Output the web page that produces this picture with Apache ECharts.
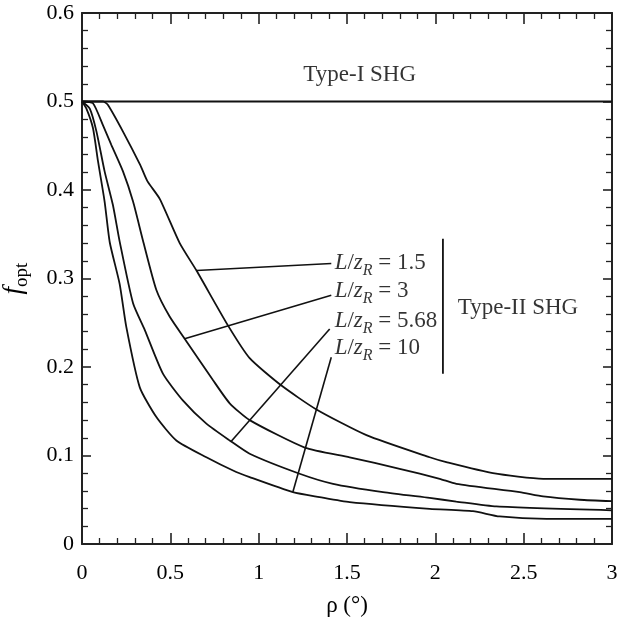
<!DOCTYPE html>
<html>
<head>
<meta charset="utf-8">
<script src="https://cdn.jsdelivr.net/npm/echarts@6/dist/echarts.min.js"></script>
<style>
  html, body { margin: 0; padding: 0; background: #fff; }
  #main { width: 619px; height: 619px; }
</style>
</head>
<body>
<div id="main"></div>
<script>
// tick labels
var xTickLabels = ['0', '0.5', '1', '1.5', '2', '2.5', '3'];
var yTickLabels = ['0', '0.1', '0.2', '0.3', '0.4', '0.5', '0.6'];

// curves: [rho, f_opt]
var typeOne = [[0, 0.5], [3, 0.5]];
var ratio1p5 = [[0, 0.5], [0.12, 0.5], [0.147, 0.496], [0.232, 0.466], [0.33, 0.428], [0.37, 0.41],
    [0.44, 0.39], [0.553, 0.34], [0.648, 0.309], [0.826, 0.247], [0.949, 0.21], [1.129, 0.179],
    [1.327, 0.152], [1.61, 0.123], [1.968, 0.098], [2.062, 0.0925], [2.326, 0.08], [2.61, 0.0737], [3, 0.0737]];
var ratio3 = [[0, 0.5], [0.062, 0.498], [0.119, 0.473], [0.166, 0.451], [0.232, 0.421], [0.289, 0.387],
    [0.345, 0.343], [0.421, 0.287], [0.496, 0.257], [0.581, 0.232], [0.742, 0.185], [0.836, 0.159],
    [0.949, 0.14], [1.261, 0.109], [1.515, 0.098], [1.798, 0.085], [2.025, 0.0737], [2.119, 0.068],
    [2.478, 0.0586], [2.61, 0.0537], [2.817, 0.05], [3, 0.0484]];
var ratio5p68 = [[0, 0.5], [0.044, 0.492], [0.082, 0.466], [0.128, 0.421], [0.175, 0.383], [0.213, 0.342],
    [0.289, 0.272], [0.355, 0.242], [0.458, 0.1925], [0.572, 0.162], [0.704, 0.136], [0.836, 0.117],
    [0.949, 0.102], [1.232, 0.0794], [1.421, 0.068], [1.704, 0.0586], [1.968, 0.052], [2.119, 0.048],
    [2.346, 0.0424], [3, 0.038]];
var ratio10 = [[0, 0.5], [0.025, 0.492], [0.062, 0.47], [0.091, 0.432], [0.128, 0.387], [0.157, 0.341],
    [0.213, 0.294], [0.251, 0.245], [0.327, 0.177], [0.421, 0.1434], [0.534, 0.117], [0.704, 0.098],
    [0.855, 0.083], [0.949, 0.0756], [1.194, 0.0586], [1.345, 0.053], [1.515, 0.0473], [1.968, 0.0398],
    [2.213, 0.0371], [2.364, 0.0311], [2.629, 0.0285], [3, 0.0285]];

// L/zR values, leader lines (curve end -> label end) and label anchors
var ratioNames = ['1.5', '3', '5.68', '10'];
var leaderOnCurve = [[0.648, 0.309], [0.581, 0.232], [0.845, 0.116], [1.194, 0.059]];
var leaderAtLabel = [[1.411, 0.317], [1.411, 0.281], [1.402, 0.243], [1.411, 0.211]];
var labelAnchor = [[1.43, 0.3133], [1.43, 0.2813], [1.43, 0.2474], [1.43, 0.2172]];
var bracket = [[2.043, 0.345], [2.043, 0.1925]];

var FONT = '"Liberation Serif", "DejaVu Serif", serif';
var INK = '#000';

var series = [];
[typeOne, ratio1p5, ratio3, ratio5p68, ratio10].forEach(function(d) {
    series.push({
        type: 'line', data: d, symbol: 'none', silent: true, smooth: 0.2,
        lineStyle: { color: '#111', width: 1.8 }
    });
});
for (var i = 0; i < ratioNames.length; i++) {
    series.push({
        type: 'line', data: [leaderOnCurve[i], leaderAtLabel[i]], symbol: 'none', silent: true,
        lineStyle: { color: '#111', width: 1.6 }
    });
}
series.push({
    type: 'line', data: bracket, symbol: 'none', silent: true,
    lineStyle: { color: '#111', width: 1.8 }
});

// L/zR = ... labels
series.push({
    type: 'scatter', symbolSize: 0, silent: true,
    data: labelAnchor.map(function(p, i) { return [p[0], p[1], ratioNames[i]]; }),
    label: {
        show: true, position: 'right', distance: 0,
        formatter: function(p) {
            return '{i|L}{n|/}{i|z}{s|R}{n| = ' + p.value[2] + '}';
        },
        rich: {
            i: { fontFamily: FONT, fontSize: 23, fontStyle: 'italic', color: INK, lineHeight: 24, padding: [0, 0, 8, 0] },
            n: { fontFamily: FONT, fontSize: 23, color: INK, lineHeight: 24, padding: [0, 0, 8, 0] },
            s: { fontFamily: FONT, fontSize: 16, fontStyle: 'italic', color: INK, lineHeight: 24, padding: [8, 0, 0, 0] }
        }
    }
});
series.push({
    type: 'scatter', symbolSize: 0, silent: true,
    data: [
        { value: [1.572, 0.53, 'Type-I SHG'], label: { position: 'inside' } },
        { value: [2.127, 0.2664, 'Type-II SHG'], label: { position: 'right', distance: 0 } }
    ],
    label: {
        show: true,
        formatter: function(p) { return p.value[2]; },
        fontFamily: FONT, fontSize: 23, color: INK
    }
});

function axisBase(majorLen) {
    return {
        min: 0,
        axisLine: { show: true, onZero: false, lineStyle: { color: '#222', width: 2 } },
        axisTick: { show: true, inside: true, length: majorLen, lineStyle: { color: '#222', width: 1.6 } },
        minorTick: { show: true, splitNumber: 5, length: 6, lineStyle: { color: '#222', width: 1.3 } },
        splitLine: { show: false }
    };
}

var option = {
    backgroundColor: '#fff',
    animation: false,
    grid: { left: 82, right: 7, top: 13, bottom: 75, containLabel: false, outerBoundsMode: 'none' },
    xAxis: [
        Object.assign(axisBase(11), {
            type: 'value', max: 3, interval: 0.5, position: 'bottom',
            name: 'ρ (°)', nameLocation: 'middle', nameGap: 50,
            nameTextStyle: { fontFamily: FONT, fontSize: 23, color: INK },
            axisLabel: {
                margin: 18, fontFamily: FONT, fontSize: 22, color: INK,
                formatter: function(v) { return xTickLabels[Math.round(v / 0.5)]; }
            }
        }),
        Object.assign(axisBase(11), {
            type: 'value', max: 3, interval: 0.5, position: 'top', axisLabel: { show: false }
        })
    ],
    yAxis: [
        Object.assign(axisBase(9), {
            type: 'value', max: 0.6, interval: 0.1, position: 'left',
            name: '{f|f}{s|opt}', nameLocation: 'middle', nameGap: 47, nameRotate: 90,
            nameTextStyle: {
                rich: {
                    f: { fontFamily: FONT, fontSize: 27, fontStyle: 'italic', color: INK, lineHeight: 26, padding: [0, 0, 8, 0] },
                    s: { fontFamily: FONT, fontSize: 19, color: INK, lineHeight: 26, padding: [8, 0, 0, 0] }
                }
            },
            axisLabel: {
                margin: 8, fontFamily: FONT, fontSize: 22, color: INK,
                formatter: function(v) { return yTickLabels[Math.round(v / 0.1)]; }
            }
        }),
        Object.assign(axisBase(9), {
            type: 'value', max: 0.6, interval: 0.1, position: 'right', axisLabel: { show: false }
        })
    ],
    series: series
};

var myChart = echarts.init(document.getElementById('main'));
myChart.setOption(option);
</script>
</body>
</html>
